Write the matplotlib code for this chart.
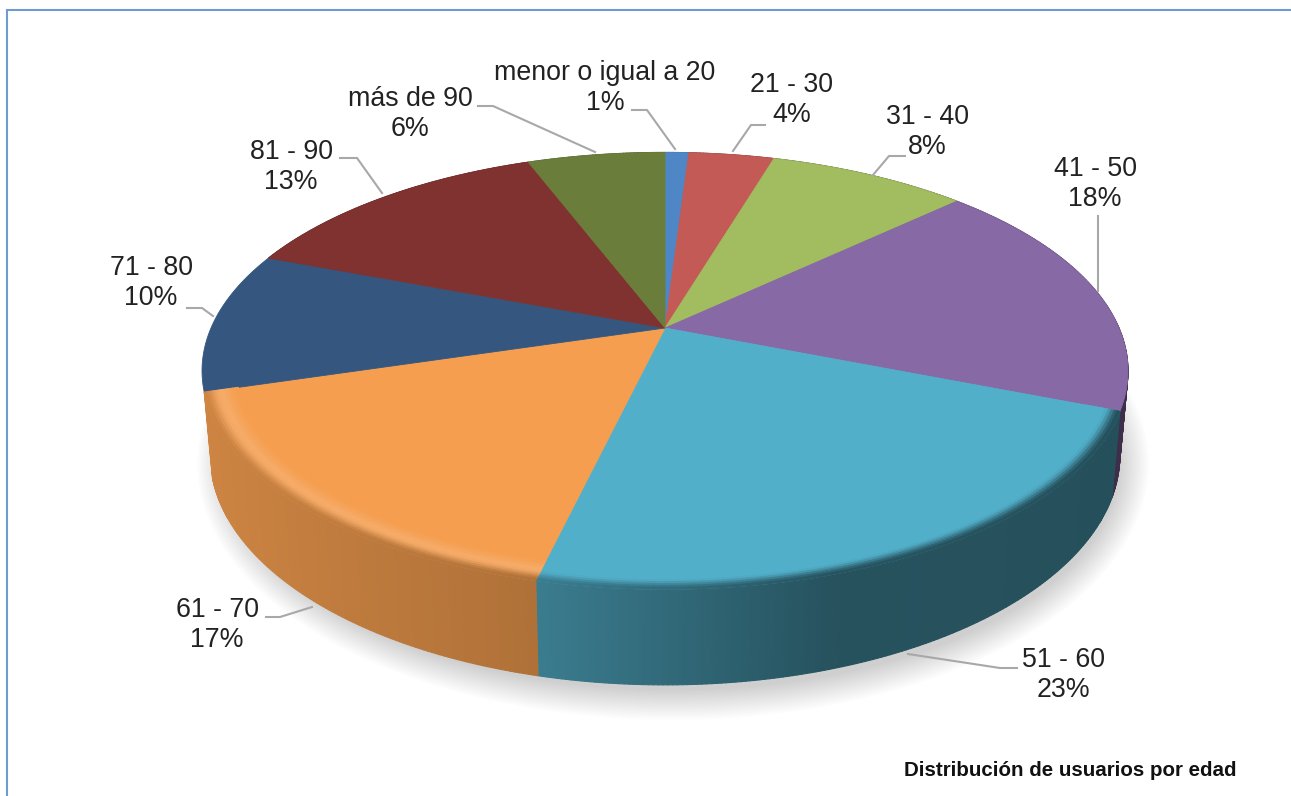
import numpy as np
import matplotlib
matplotlib.use('Agg')
import matplotlib.pyplot as plt
from matplotlib.collections import PolyCollection
from matplotlib.colors import to_rgb
from matplotlib.patches import Ellipse
from matplotlib.path import Path
from matplotlib.transforms import Affine2D, Transform

# data
names = ['menor o igual a 20', '21 - 30', '31 - 40', '41 - 50', '51 - 60',
         '61 - 70', '71 - 80', '81 - 90', 'más de 90']
percents = [1.0, 3.6, 8.4, 18.0, 22.7, 16.65, 10.45, 13.4, 5.8]
caption = 'Distribución de usuarios por edad'

# styles and layout (pixel coordinates of the reference)
colors = ['#4f86c6', '#c45a56', '#a2bc60', '#8769a5', '#52afc9',
          '#f59e4f', '#34567f', '#7f3230', '#6b7d3a']
label_pos = [(605, 88), (792, 100), (927, 132), (1095, 184), (1063, 675),
             (217, 625), (151, 283), (291, 167), (410, 114)]
leaders = [[(632, 110), (647, 110), (675, 149)],
           [(765, 125), (751, 125), (733, 151)],
           [(905, 156), (889, 156), (873, 175)],
           [(1098, 216), (1098, 291)],
           [(1017, 668), (1000, 668), (908, 654)],
           [(266, 617), (280, 617), (312, 607)],
           [(187, 308), (202, 308), (213, 316)],
           [(340, 158), (357, 158), (382, 193)],
           [(478, 106), (493, 106), (595, 152)]]
W, H = 1291, 796
CX, K = 665, 0.196
TOP = (454, 210, 328)
BOTTOM = (446, 221, 410)


def project(x, y, plane):
    a, b, cy = plane
    w = 1 + K * y
    return CX + a * x / w, cy - b * y / w


class Perspective(Transform):
    input_dims = 2
    output_dims = 2

    def transform_non_affine(self, values):
        values = np.asarray(values, dtype=float)
        px, py = project(values[:, 0], values[:, 1], TOP)
        return np.column_stack([px, py])

    def transform_path_non_affine(self, path):
        # flatten the arcs first, bezier control points do not survive the projection
        poly = path.to_polygons(Affine2D().scale(2000))[0] / 2000
        return Path(self.transform_non_affine(poly))


def mix(c1, c2, t):
    return tuple((1 - t) * np.array(c1) + t * np.array(c2))


def side_color(color, x):
    shade = np.interp(x, [-1, -0.25, 0.3, 1], [0.85, 0.72, 0.47, 0.45])
    return mix((0, 0, 0), to_rgb(color), shade)


fig = plt.figure(figsize=(W / 100, H / 100), dpi=100)
ax = fig.add_axes([0, 0, 1, 1])
plt.rcParams['font.family'] = ['Liberation Sans', 'DejaVu Sans']

wedges, _ = ax.pie(percents, colors=colors, startangle=90, counterclock=False,
                   wedgeprops={'linewidth': 0.6})
ax.set_aspect('auto')
ax.set_xlim(0, W)
ax.set_ylim(H, 0)
ax.axis('off')

persp = Perspective() + ax.transData
for w, c in zip(wedges, colors):
    w.set_transform(persp)
    w.set_edgecolor(c)
    w.set_zorder(4)
    w.set_clip_on(False)

# soft shadow under the pie
for d in np.linspace(0, 30, 24):
    ax.add_patch(Ellipse((CX + 8, 464), 2 * (446 + d), 2 * (226 + d), color='#606060',
                         alpha=0.010, lw=0, zorder=1))

# side wall and bevel, strip by strip
quads, quad_colors = [], []
bevel, bevel_colors = [], []
radii = np.linspace(0.93, 1.0, 13)
for w, c in zip(wedges, colors):
    n = max(int(w.theta2 - w.theta1) * 2, 2)
    th = np.radians(np.linspace(w.theta1, w.theta2, n + 1))
    xs, ys = np.cos(th), np.sin(th)
    # the far left of the wall is hidden in the reference
    if xs.mean() < -0.8:
        continue
    for i in range(n):
        x1, y1 = project(xs[i], ys[i], TOP)
        x2, y2 = project(xs[i + 1], ys[i + 1], TOP)
        x3, y3 = project(xs[i + 1], ys[i + 1], BOTTOM)
        x4, y4 = project(xs[i], ys[i], BOTTOM)
        quads.append([(x1, y1), (x2, y2), (x3, y3), (x4, y4)])
        wall = side_color(c, (xs[i] + xs[i + 1]) / 2)
        quad_colors.append(wall)
        # only the two front slices have the rounded lip
        if ys.mean() > 0:
            continue
        for j in range(len(radii) - 1):
            t = (j + 0.5) / (len(radii) - 1)
            r1, r2 = radii[j], radii[j + 1]
            base = to_rgb(c)
            # lighter lip on the warm slice, then falling into the wall colour
            light = mix(base, (1, 1, 1), 0.14) if base[0] > 0.6 else base
            if t < 0.55:
                s = t / 0.55
                col = mix(base, light, s * s * (3 - 2 * s))
            else:
                s = (t - 0.55) / 0.45
                col = mix(light, wall, s * s * (3 - 2 * s))
            p = [project(r1 * xs[i], r1 * ys[i], TOP),
                 project(r1 * xs[i + 1], r1 * ys[i + 1], TOP),
                 project(r2 * xs[i + 1], r2 * ys[i + 1], TOP),
                 project(r2 * xs[i], r2 * ys[i], TOP)]
            bevel.append(p)
            bevel_colors.append(col)

ax.add_collection(PolyCollection(quads, facecolors=quad_colors, edgecolors=quad_colors,
                                 linewidths=0.8, zorder=3))
ax.add_collection(PolyCollection(bevel, facecolors=bevel_colors, edgecolors=bevel_colors,
                                 linewidths=0.8, zorder=5))

# leaders and labels
for pts in leaders:
    ax.plot([p[0] for p in pts], [p[1] for p in pts], color='#a8a8a8', lw=1.5,
            solid_joinstyle='round', zorder=6)
for name, pct, pos in zip(names, percents, label_pos):
    ax.text(pos[0], pos[1], f'{name}\n{round(pct)}%', ha='center', va='center', fontsize=19.3,
            color='#222222', linespacing=1.24, zorder=7)

ax.text(1236, 770, caption, ha='right', va='center', fontsize=14.75, fontweight='bold',
        color='#111111', zorder=7)

# frame lines at the top and left
ax.plot([7, 7, W], [H, 10, 10], color='#6f9bd1', lw=1.5, solid_joinstyle='miter', zorder=8)

fig.savefig('out.png', dpi=100, facecolor='white')
